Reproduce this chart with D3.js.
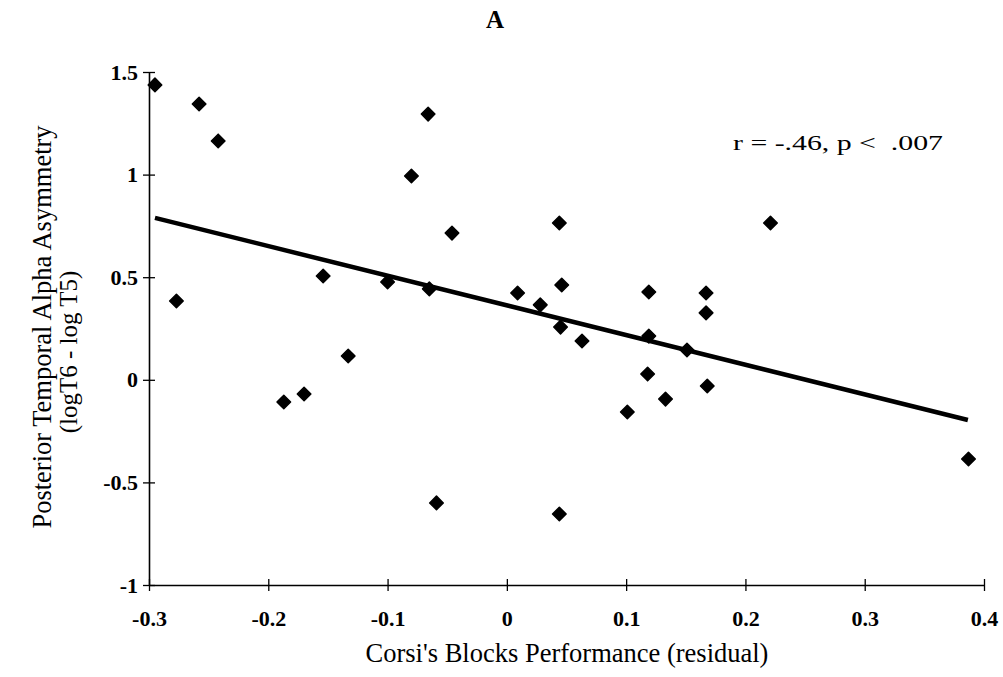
<!DOCTYPE html>
<html>
<head>
<meta charset="utf-8">
<script src="https://cdn.jsdelivr.net/npm/d3@7"></script>
<style>
  html, body { margin: 0; padding: 0; background: #fff; }
  svg { display: block; }
  text { font-family: "Liberation Serif", "DejaVu Serif", serif; fill: #000; }
</style>
</head>
<body>
<svg id="chart" width="1003" height="677"></svg>
<script>
// ---- data ----
const corsiResidual = [
  -0.295, -0.258, -0.242, -0.277, -0.154, -0.187, -0.170, -0.133,
  -0.100, -0.080, -0.066, -0.065, -0.046, -0.059, 0.009, 0.028,
  0.044, 0.046, 0.045, 0.063, 0.044, 0.101, 0.118, 0.119,
  0.119, 0.133, 0.151, 0.167, 0.167, 0.168, 0.221, 0.387
];
const alphaAsymmetry = [
  1.437, 1.344, 1.164, 0.384, 0.506, -0.108, -0.069, 0.116,
  0.477, 0.993, 1.295, 0.443, 0.715, -0.600, 0.423, 0.365,
  0.764, 0.462, 0.257, 0.189, -0.654, -0.157, 0.028, 0.428,
  0.213, -0.094, 0.145, 0.423, 0.326, -0.030, 0.764, -0.386
];
const fitX = [-0.295, 0.3865];
const fitY = [0.789, -0.196];
const xTicks = [-0.3, -0.2, -0.1, 0, 0.1, 0.2, 0.3, 0.4];
const yTicks = [-1, -0.5, 0, 0.5, 1, 1.5];
const xTickLabels = ["-0.3", "-0.2", "-0.1", "0", "0.1", "0.2", "0.3", "0.4"];
const yTickLabels = ["-1", "-0.5", "0", "0.5", "1", "1.5"];
const titleText = "A";
const statText = "r = -.46, p <  .007";
const xTitle = "Corsi's Blocks Performance (residual)";
const yTitle1 = "Posterior Temporal Alpha Asymmetry";
const yTitle2 = "(logT6 - log T5)";

// ---- chart ----
const svg = d3.select("#chart");
const x = d3.scaleLinear().domain([-0.3, 0.4]).range([149, 984]);
const y = d3.scaleLinear().domain([-1, 1.5]).range([585, 72]);

// x axis
const xAxis = d3.axisBottom(x)
  .tickValues(xTicks)
  .tickFormat((d, i) => xTickLabels[i])
  .tickSizeInner(6).tickSizeOuter(0).tickPadding(19);
const gx = svg.append("g").attr("transform", `translate(0,${y(-1)})`).call(xAxis);
gx.select(".domain").attr("stroke", "#000").attr("stroke-width", 1.6);
gx.selectAll(".tick line").attr("y1", -6).attr("y2", 6).attr("stroke", "#000").attr("stroke-width", 1.3);
gx.selectAll(".tick text")
  .attr("font-family", "Liberation Serif").attr("font-size", 22).attr("font-weight", "bold")
  .attr("fill", "#000");

// y axis
const yAxis = d3.axisLeft(y)
  .tickValues(yTicks)
  .tickFormat((d, i) => yTickLabels[i])
  .tickSizeInner(6).tickSizeOuter(0).tickPadding(5);
const gy = svg.append("g").attr("transform", `translate(${x(-0.3)},0)`).call(yAxis);
gy.select(".domain").attr("stroke", "#000").attr("stroke-width", 1.6);
gy.selectAll(".tick line").attr("x1", -6).attr("x2", 6).attr("stroke", "#000").attr("stroke-width", 1.3);
gy.selectAll(".tick text")
  .attr("font-family", "Liberation Serif").attr("font-size", 22).attr("font-weight", "bold")
  .attr("fill", "#000");

// regression line
const line = d3.line().x(d => x(d[0])).y(d => y(d[1]));
svg.append("path")
  .datum(fitX.map((v, i) => [v, fitY[i]]))
  .attr("d", line)
  .attr("fill", "none").attr("stroke", "#000").attr("stroke-width", 4.5);

// points (diamonds)
const diamond = d3.symbol().type(d3.symbolSquare).size(92);
svg.append("g").selectAll("path")
  .data(corsiResidual.map((v, i) => [v, alphaAsymmetry[i]]))
  .join("path")
  .attr("d", diamond)
  .attr("transform", d => `translate(${x(d[0])},${y(d[1])}) rotate(45)`)
  .attr("fill", "#000").attr("stroke", "#000").attr("stroke-width", 1.5)
  .attr("stroke-linejoin", "round");

// title
svg.append("text").attr("x", 495).attr("y", 28).attr("text-anchor", "middle")
  .attr("font-size", 25).attr("font-weight", "bold").text(titleText);

// stat annotation
svg.append("text").attr("x", 733).attr("y", 150)
  .attr("font-size", 21).attr("xml:space", "preserve").style("white-space", "pre")
  .attr("textLength", 210).attr("lengthAdjust", "spacingAndGlyphs")
  .text(statText);

// axis titles
svg.append("text").attr("x", 567).attr("y", 662).attr("text-anchor", "middle")
  .attr("font-size", 26.5).text(xTitle);

svg.append("text").attr("transform", "translate(51,327) rotate(-90)")
  .attr("text-anchor", "middle").attr("font-size", 26.5).text(yTitle1);
svg.append("text").attr("transform", "translate(77,352) rotate(-90)")
  .attr("text-anchor", "middle").attr("font-size", 25).text(yTitle2);
</script>
</body>
</html>
